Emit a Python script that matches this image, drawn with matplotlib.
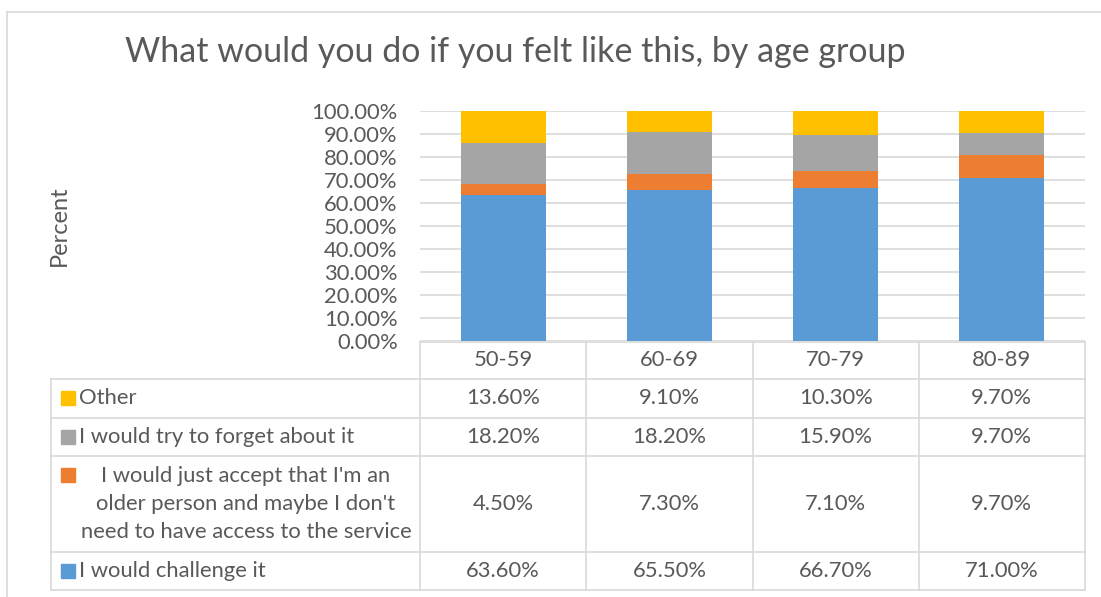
import matplotlib
matplotlib.use("Agg")
import matplotlib.pyplot as plt
from matplotlib.transforms import blended_transform_factory
from matplotlib.lines import Line2D
from matplotlib.patches import Rectangle

plt.rcParams['font.family'] = ['Lato', 'DejaVu Sans']

groups = ["50-59", "60-69", "70-79", "80-89"]
challenge = [63.6, 65.5, 66.7, 71.0]
accept = [4.5, 7.3, 7.1, 9.7]
forget = [18.2, 18.2, 15.9, 9.7]
other = [13.6, 9.1, 10.3, 9.7]

series_names = ["I would challenge it",
                "I would just accept that I'm an\nolder person and maybe I don't\nneed to have access to the service",
                "I would try to forget about it",
                "Other"]
series_values = [challenge, accept, forget, other]
colors = ["#5B9BD5", "#ED7D31", "#A5A5A5", "#FFC000"]

text_color = "#595959"
line_color = "#D9D9D9"
fs = 15.8

W, H = 1101, 597
fig = plt.figure(figsize=(W / 100, H / 100), dpi=100)


def fx(px):
    return px / W


def fy(py):
    return 1 - py / H


# outer chart frame (top and left edges)
fig.add_artist(Line2D([fx(7), 1], [fy(12), fy(12)], color=line_color, lw=1.2))
fig.add_artist(Line2D([fx(7), fx(7)], [fy(12), 0], color=line_color, lw=1.2))

ax = fig.add_axes([fx(420), fy(341), fx(1085) - fx(420), fy(111) - fy(341)])
x = list(range(len(groups)))
bottom = [0.0] * len(groups)
for name, vals, c in zip(series_names, series_values, colors):
    fr = [v / 100 for v in vals]
    ax.bar(x, fr, 0.51, bottom=bottom, color=c, zorder=3)
    bottom = [b + f for b, f in zip(bottom, fr)]

ax.set_xlim(-0.5, len(groups) - 0.5)
ax.set_ylim(0, 1)
ax.set_yticks([i / 10 for i in range(11)])
ax.set_yticklabels([f"{i * 10:.2f}%" for i in range(11)], color=text_color, fontsize=fs)
ax.tick_params(axis='y', length=0, pad=16)
ax.set_xticks([])
ax.grid(axis='y', color=line_color, lw=1.2, zorder=0)
for s in ax.spines.values():
    s.set_visible(False)

fig.text(fx(59), fy(226), "Percent", rotation=90, ha='center', va='center',
         color=text_color, fontsize=17)
fig.text(fx(515), fy(52), "What would you do if you felt like this, by age group",
         ha='center', va='center', color=text_color, fontsize=24.5)

# data table under the plot
tr = blended_transform_factory(ax.transData, fig.transFigure)
edges = [i - 0.5 for i in range(len(groups) + 1)]
rows = [342, 379, 418, 456, 552, 590]

for e in edges:
    fig.add_artist(Line2D([e, e], [fy(rows[0]), fy(rows[-1])], transform=tr,
                          color=line_color, lw=1.2))
fig.add_artist(Line2D([edges[0], edges[-1]], [fy(rows[0]), fy(rows[0])], transform=tr,
                      color=line_color, lw=1.2))
fig.add_artist(Line2D([fx(51), fx(51)], [fy(rows[1]), fy(rows[-1])],
                      color=line_color, lw=1.2))
for r in rows[1:]:
    fig.add_artist(Line2D([fx(51), fx(1085)], [fy(r), fy(r)], color=line_color, lw=1.2))

for i, g in enumerate(groups):
    fig.text(i, fy((rows[0] + rows[1]) / 2), g, transform=tr, ha='center', va='center',
             color=text_color, fontsize=fs)

# table rows run top-down: Other, forget, accept, challenge
for k, idx in enumerate([3, 2, 1, 0]):
    top, bot = rows[k + 1], rows[k + 2]
    yc = fy((top + bot) / 2)
    name = series_names[idx]
    sq_top = top + 12
    fig.add_artist(Rectangle((fx(61), fy(sq_top + 14)), fx(14), fy(0) - fy(14),
                             color=colors[idx], transform=fig.transFigure))
    if "\n" in name:
        fig.text(fx(246), yc, name, ha='center', va='center', multialignment='center',
                 color=text_color, fontsize=fs, linespacing=1.5)
    else:
        fig.text(fx(79), yc, name, ha='left', va='center', color=text_color, fontsize=fs)
    for i, v in enumerate(series_values[idx]):
        fig.text(i, yc, f"{v:.2f}%", transform=tr, ha='center', va='center',
                 color=text_color, fontsize=fs)

fig.savefig("out.png", dpi=100, facecolor="white")
